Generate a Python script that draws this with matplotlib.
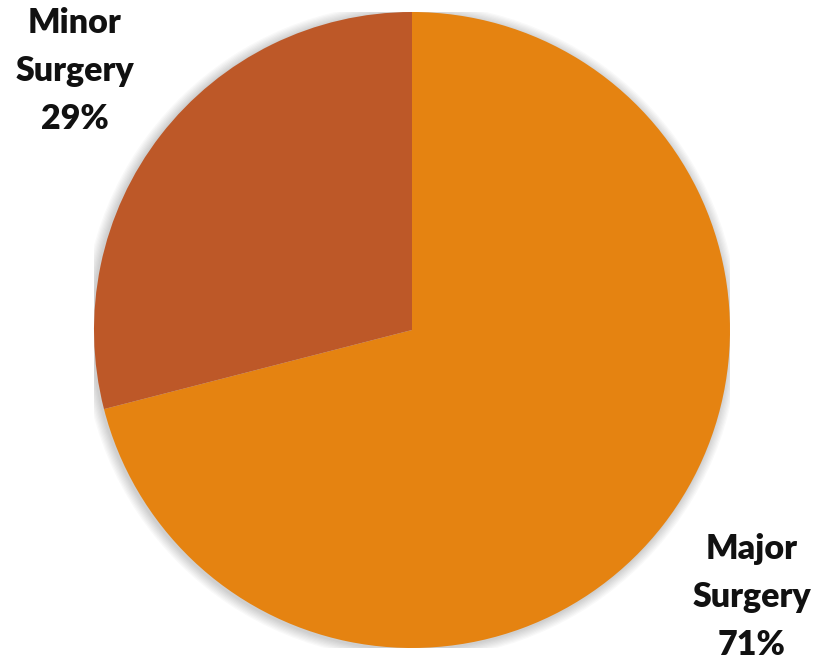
import matplotlib
matplotlib.use("Agg")
import matplotlib.pyplot as plt
from matplotlib.patches import Circle

categories = ["Major\nSurgery", "Minor\nSurgery"]
shares = [71, 29]
colors = ["#E58311", "#BD5828"]

W, H = 819, 666
fig = plt.figure(figsize=(W / 100, H / 100), dpi=100)
fig.patch.set_facecolor("white")

cx, cy, r = 412, 330, 318
ax = fig.add_axes([(cx - r) / W, (H - cy - r) / H, 2 * r / W, 2 * r / H])
ax.set_xlim(-1, 1)
ax.set_ylim(-1, 1)
ax.set_aspect("equal")
ax.axis("off")

# soft shadow around the pie
for i in range(8):
    ax.add_patch(Circle((-0.004, -0.004), 1.0 + 0.004 * (i + 1), color="#000000",
                        alpha=0.025, lw=0, zorder=0))

ax.pie(shares, colors=colors, startangle=90, counterclock=False, radius=1.0,
       wedgeprops=dict(linewidth=0), frame=False)
ax.set_xlim(-1, 1)
ax.set_ylim(-1, 1)

font = dict(family=["Lato", "DejaVu Sans"], fontweight="heavy", fontsize=24.5,
            color="#111111", ha="center", va="center", linespacing=1.6)
label_pos = [(752, 597), (75, 71)]
for cat, val, (px, py) in zip(categories, shares, label_pos):
    fig.text(px / W, 1 - py / H, f"{cat}\n{val}%", **font)

fig.savefig("out.png", dpi=100)
